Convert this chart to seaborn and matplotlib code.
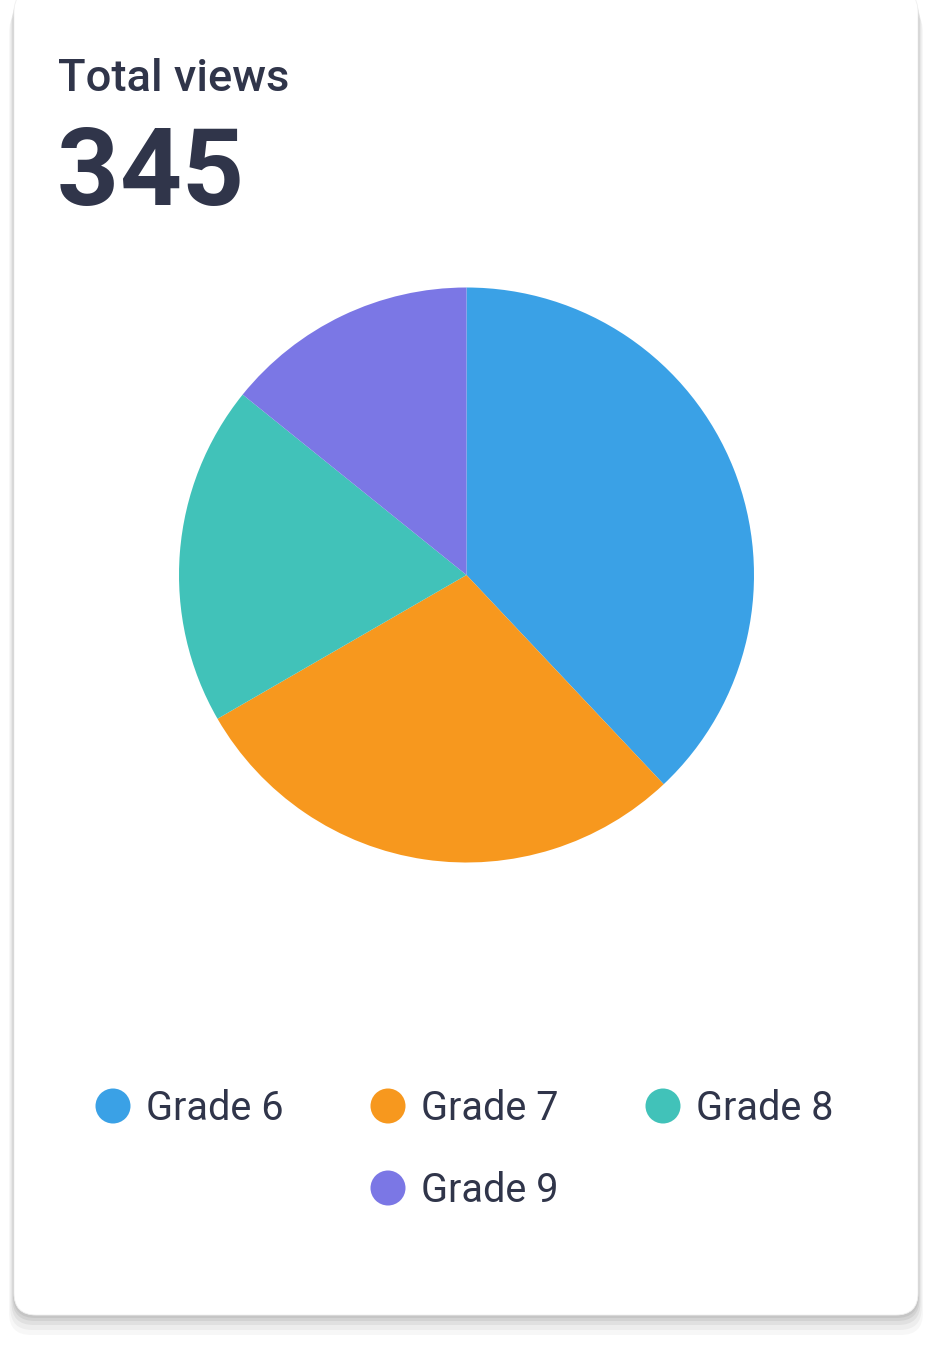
import matplotlib
matplotlib.use("Agg")
import matplotlib.pyplot as plt
import seaborn as sns
from matplotlib.patches import FancyBboxPatch, Circle

sns.set_theme(style="white")
plt.rcParams['font.family'] = ['Roboto', 'DejaVu Sans']

# Data
categories = ["Grade 6", "Grade 7", "Grade 8", "Grade 9"]
views = [131, 99, 66, 49]
colors = ["#3AA1E6", "#F7981E", "#41C2B9", "#7B77E5"]
title_text = "Total views"
total_text = str(sum(views))

W, H = 933, 1348
fig = plt.figure(figsize=(W / 100, H / 100), dpi=100)
fig.patch.set_facecolor("white")

def fx(x):
    return x / W

def fy(y):
    return 1 - y / H

# Background axes for the card
bg = fig.add_axes([0, 0, 1, 1], zorder=-10)
bg.set_xlim(0, W)
bg.set_ylim(H, 0)
bg.axis("off")

card_l, card_r, card_t, card_b = 14, 918, -10, 1315
for dy, alpha in [(20, 0.03), (15, 0.04), (10, 0.05), (6, 0.06), (3, 0.06)]:
    grow = dy / 4
    sh = FancyBboxPatch((card_l - grow, card_t + dy), card_r - card_l + 2 * grow,
                        card_b - card_t,
                        boxstyle="round,pad=0,rounding_size=22",
                        facecolor="black", edgecolor="none", alpha=alpha)
    bg.add_patch(sh)
card = FancyBboxPatch((card_l, card_t), card_r - card_l, card_b - card_t,
                      boxstyle="round,pad=0,rounding_size=22",
                      facecolor="white", edgecolor="#F0F0F0", linewidth=0.6)
bg.add_patch(card)

text_color = "#30354A"
bg.text(58, 91, title_text, fontsize=32.7, fontweight="medium", color=text_color,
        ha="left", va="baseline")
# big number, slightly tracked like the reference
x0 = 57
for ch in total_text:
    t = bg.text(x0, 205, ch, fontsize=78, fontweight="bold",
                color=text_color, ha="left", va="baseline")
    x0 += 62

# Pie
cx, cy, r = 466.5, 575, 287.5
ax = fig.add_axes([fx(cx - r), fy(cy + r), 2 * r / W, 2 * r / H])
ax.pie(views, colors=colors, startangle=90, counterclock=False, radius=1,
       wedgeprops=dict(linewidth=0, edgecolor="white"))
ax.set_xlim(-1, 1)
ax.set_ylim(-1, 1)
ax.set_aspect("equal")
ax.axis("off")

# Legend (centered rows, 3 per row)
lax = fig.add_axes([0, 0, 1, 1])
lax.set_xlim(0, W)
lax.set_ylim(H, 0)
lax.axis("off")
col_x = [113, 388, 663]
row_y = [1106, 1188]
per_row = 3
for i, (cat, col) in enumerate(zip(categories, colors)):
    row = i // per_row
    n_in_row = min(per_row, len(categories) - row * per_row)
    idx = i % per_row
    x = col_x[1] if n_in_row == 1 else col_x[idx]
    y = row_y[row]
    lax.add_patch(Circle((x, y), 17.5, facecolor=col, edgecolor="none"))
    lax.text(x + 33, y + 2.5, cat, fontsize=28.5, color=text_color,
             ha="left", va="center")

fig.savefig("out.png", dpi=100, facecolor="white")
